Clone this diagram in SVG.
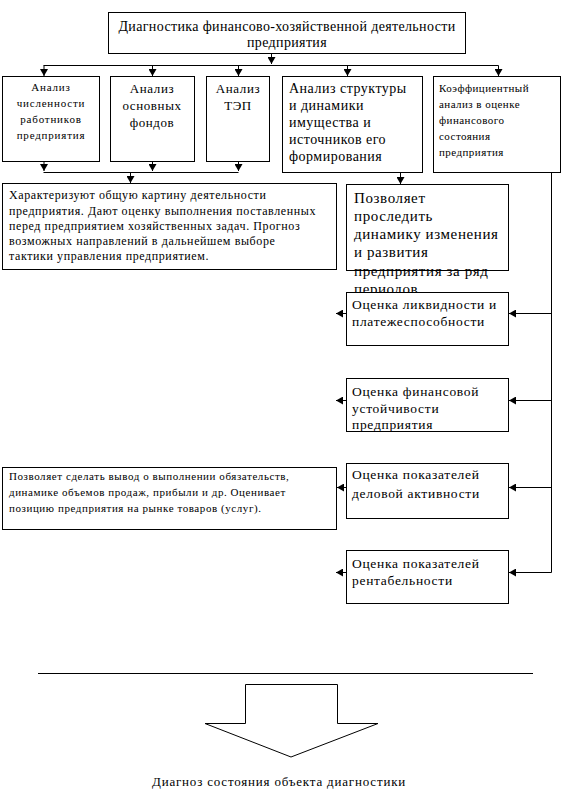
<svg xmlns="http://www.w3.org/2000/svg" width="564" height="805" viewBox="0 0 564 805" font-family="'Liberation Serif', 'Times New Roman', serif">
<defs>
<style>
rect.b{fill:#fff;stroke:#000;stroke-width:1}
.c line,.c path{stroke:#000;stroke-width:1;fill:none}
text{font-family:'Liberation Serif','Times New Roman',serif;fill:#000}
.title{font-size:14px;letter-spacing:0.35px}
.big{font-size:15px;letter-spacing:0.6px}
.s14{font-size:14px;letter-spacing:0.5px}
.ev{font-size:13.5px;letter-spacing:0.7px}
.s13{font-size:13px;letter-spacing:0.6px}
.s12{font-size:12px;letter-spacing:0.6px}
.w1{font-size:11px;letter-spacing:0.8px}
.w5{font-size:11px;letter-spacing:0.45px}
.w11{font-size:11px;letter-spacing:0.57px}
.foot{font-size:13px;letter-spacing:0.8px}
.m{text-anchor:middle}
</style>
<marker id="ah" markerWidth="7" markerHeight="8" refX="7" refY="4" orient="auto" markerUnits="userSpaceOnUse"><path d="M0,0 L7,4 L0,8 z" fill="#000"/></marker>
</defs>
<rect width="564" height="805" fill="#fff"/>

<g id="n-top">
<rect class="b" x="108.5" y="12.5" width="357" height="41"/>
<text class="title m" x="287" y="31">Диагностика финансово-хозяйственной деятельности</text>
<text class="title m" x="287" y="47">предприятия</text>
</g>

<g id="n-workers">
<rect class="b" x="2.5" y="76.5" width="97" height="85"/>
<text class="w1 m" x="51" y="91">Анализ</text>
<text class="w1 m" x="51" y="107">численности</text>
<text class="w1 m" x="51" y="123">работников</text>
<text class="w1 m" x="51" y="139">предприятия</text>
</g>

<g id="n-funds">
<rect class="b" x="110.5" y="76.5" width="84" height="85"/>
<text class="s13 m" x="152" y="93">Анализ</text>
<text class="s13 m" x="152" y="110">основных</text>
<text class="s13 m" x="152" y="127">фондов</text>
</g>

<g id="n-tep">
<rect class="b" x="206.5" y="76.5" width="63" height="85"/>
<text class="s13 m" x="238" y="93">Анализ</text>
<text class="s13 m" x="238" y="110">ТЭП</text>
</g>

<g id="n-structure">
<rect class="b" x="282.5" y="76.5" width="140" height="96"/>
<text class="s14" x="289" y="93">Анализ структуры</text>
<text class="s14" x="289" y="110">и динамики</text>
<text class="s14" x="289" y="127">имущества и</text>
<text class="s14" x="289" y="144">источников его</text>
<text class="s14" x="289" y="161">формирования</text>
</g>

<g id="n-coef">
<rect class="b" x="433.5" y="76.5" width="127" height="96"/>
<text class="w5" x="439" y="92">Коэффициентный</text>
<text class="w5" x="439" y="108">анализ в оценке</text>
<text class="w5" x="439" y="124">финансового</text>
<text class="w5" x="439" y="140">состояния</text>
<text class="w5" x="439" y="156">предприятия</text>
</g>

<g id="n-general">
<rect class="b" x="2.5" y="183.5" width="334" height="86"/>
<text class="s12" x="9" y="199">Характеризуют общую картину деятельности</text>
<text class="s12" x="9" y="215">предприятия. Дают оценку выполнения поставленных</text>
<text class="s12" x="9" y="230">перед предприятием хозяйственных задач. Прогноз</text>
<text class="s12" x="9" y="245">возможных направлений в дальнейшем выборе</text>
<text class="s12" x="9" y="260">тактики управления предприятием.</text>
</g>

<g id="n-dynamics">
<rect class="b" x="346.5" y="184.5" width="162" height="86"/>
<text class="big" x="354" y="203">Позволяет</text>
<text class="big" x="354" y="221">проследить</text>
<text class="big" x="354" y="239">динамику изменения</text>
<text class="big" x="354" y="257">и развития</text>
<text class="big" x="354" y="276">предприятия за ряд</text>
<text class="big" x="354" y="294">периодов.</text>
</g>

<g id="n-liquidity">
<rect class="b" x="346.5" y="292.5" width="162" height="53"/>
<text class="ev" x="352" y="309">Оценка ликвидности и</text>
<text class="ev" x="352" y="326">платежеспособности</text>
</g>

<g id="n-stability">
<rect class="b" x="346.5" y="378.5" width="162" height="53"/>
<text class="ev" x="352" y="396">Оценка финансовой</text>
<text class="ev" x="352" y="413">устойчивости</text>
<text class="ev" x="352" y="429">предприятия</text>
</g>

<g id="n-activity">
<rect class="b" x="346.5" y="463.5" width="162" height="55"/>
<text class="ev" x="352" y="479">Оценка показателей</text>
<text class="ev" x="352" y="498">деловой активности</text>
</g>

<g id="n-conclusion">
<rect class="b" x="2.5" y="467.5" width="334" height="62"/>
<text class="w11" x="9" y="480">Позволяет сделать вывод о выполнении обязательств,</text>
<text class="w11" x="9" y="496">динамике объемов продаж, прибыли и др. Оценивает</text>
<text class="w11" x="9" y="512">позицию предприятия на рынке товаров (услуг).</text>
</g>

<g id="n-profit">
<rect class="b" x="346.5" y="550.5" width="162" height="53"/>
<text class="ev" x="352" y="568">Оценка показателей</text>
<text class="ev" x="352" y="585">рентабельности</text>
</g>

<g id="n-diagnosis">
<path d="M245.5,684.5 H337.5 V723.5 H378 L291,757 L205,723.5 H245.5 Z" fill="#fff" stroke="#000" stroke-width="1"/>
<text class="foot m" x="279" y="786">Диагноз состояния объекта диагностики</text>
</g>

<g id="connectors" class="c">
<line x1="271.5" y1="54" x2="271.5" y2="64" marker-end="url(#ah)"/>
<line x1="43.5" y1="65.5" x2="498.5" y2="65.5"/>
<line x1="44" y1="65.5" x2="44" y2="76" marker-end="url(#ah)"/>
<line x1="152.5" y1="65.5" x2="152.5" y2="76" marker-end="url(#ah)"/>
<line x1="238.5" y1="65.5" x2="238.5" y2="76" marker-end="url(#ah)"/>
<line x1="347.5" y1="65.5" x2="347.5" y2="76" marker-end="url(#ah)"/>
<line x1="498.5" y1="65.5" x2="498.5" y2="76" marker-end="url(#ah)"/>
<line x1="44" y1="162" x2="44" y2="171" marker-end="url(#ah)"/>
<line x1="152.5" y1="162" x2="152.5" y2="171" marker-end="url(#ah)"/>
<line x1="238.5" y1="162" x2="238.5" y2="171" marker-end="url(#ah)"/>
<line x1="43.5" y1="172.5" x2="238.5" y2="172.5"/>
<line x1="130.5" y1="172.5" x2="130.5" y2="183" marker-end="url(#ah)"/>
<line x1="400.5" y1="173" x2="400.5" y2="184" marker-end="url(#ah)"/>
<path d="M551.5,173 V572.5"/>
<line x1="551.5" y1="313.5" x2="509" y2="313.5" marker-end="url(#ah)"/>
<line x1="551.5" y1="400.5" x2="509" y2="400.5" marker-end="url(#ah)"/>
<line x1="551.5" y1="487.5" x2="509" y2="487.5" marker-end="url(#ah)"/>
<line x1="551.5" y1="572.5" x2="509" y2="572.5" marker-end="url(#ah)"/>
<line x1="346" y1="313.5" x2="336" y2="313.5" marker-end="url(#ah)"/>
<line x1="346" y1="400.5" x2="336" y2="400.5" marker-end="url(#ah)"/>
<line x1="346" y1="487.5" x2="337" y2="487.5" marker-end="url(#ah)"/>
<line x1="346" y1="572.5" x2="336" y2="572.5" marker-end="url(#ah)"/>
<line x1="38" y1="673.5" x2="533" y2="673.5"/>
</g>
</svg>
